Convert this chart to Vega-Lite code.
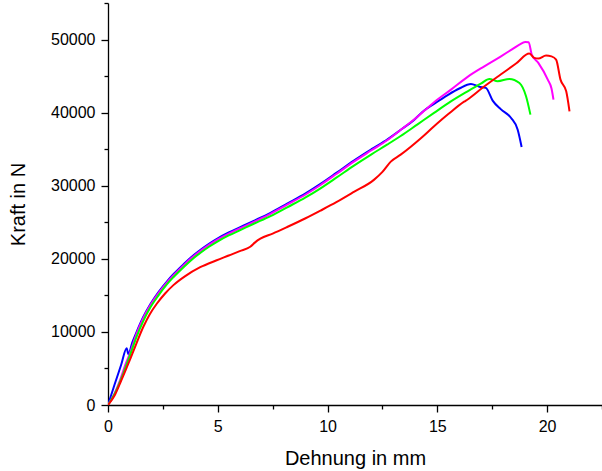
{
  "$schema": "https://vega.github.io/schema/vega-lite/v6.json",
  "width": 494,
  "height": 402,
  "autosize": "none",
  "padding": {"left": 108, "top": 3, "right": 0, "bottom": 66},
  "background": "white",
  "config": {
    "view": {"stroke": null},
    "font": "Liberation Sans",
    "axis": {
      "domainColor": "black",
      "domainWidth": 1.3,
      "tickColor": "black",
      "tickWidth": 1.3,
      "grid": false,
      "labelFont": "Liberation Sans",
      "labelFontSize": 16,
      "labelColor": "black",
      "titleFont": "Liberation Sans",
      "titleFontSize": 20,
      "titleFontWeight": "normal",
      "titleColor": "black",
      "labelPadding": 6
    }
  },
  "data": {
    "values": [
      {"s": "A", "x": 0, "y": 0},
      {"s": "A", "x": 0.3, "y": 2800},
      {"s": "A", "x": 0.6, "y": 5500},
      {"s": "A", "x": 0.85, "y": 7770},
      {"s": "A", "x": 0.93, "y": 6950},
      {"s": "A", "x": 1.1, "y": 8500},
      {"s": "A", "x": 1.31, "y": 10040},
      {"s": "A", "x": 1.6, "y": 12000},
      {"s": "A", "x": 1.92, "y": 13750},
      {"s": "A", "x": 2.3, "y": 15450},
      {"s": "A", "x": 2.68, "y": 16890},
      {"s": "A", "x": 3.0, "y": 17950},
      {"s": "A", "x": 3.44, "y": 19250},
      {"s": "A", "x": 3.8, "y": 20250},
      {"s": "A", "x": 4.2, "y": 21200},
      {"s": "A", "x": 4.6, "y": 22050},
      {"s": "A", "x": 5.0, "y": 22800},
      {"s": "A", "x": 5.5, "y": 23600},
      {"s": "A", "x": 6.0, "y": 24300},
      {"s": "A", "x": 6.64, "y": 25200},
      {"s": "A", "x": 7.4, "y": 26300},
      {"s": "A", "x": 8.16, "y": 27550},
      {"s": "A", "x": 9.0, "y": 28950},
      {"s": "A", "x": 9.68, "y": 30250},
      {"s": "A", "x": 10.4, "y": 31750},
      {"s": "A", "x": 11.2, "y": 33450},
      {"s": "A", "x": 12.0, "y": 35000},
      {"s": "A", "x": 12.73, "y": 36350},
      {"s": "A", "x": 13.4, "y": 37800},
      {"s": "A", "x": 13.94, "y": 39000},
      {"s": "A", "x": 14.32, "y": 40100},
      {"s": "A", "x": 14.9, "y": 41300},
      {"s": "A", "x": 15.47, "y": 42400},
      {"s": "A", "x": 16.0, "y": 43300},
      {"s": "A", "x": 16.53, "y": 43930},
      {"s": "A", "x": 16.91, "y": 43550},
      {"s": "A", "x": 17.21, "y": 43380},
      {"s": "A", "x": 17.52, "y": 41650},
      {"s": "A", "x": 17.9, "y": 40450},
      {"s": "A", "x": 18.36, "y": 39270},
      {"s": "A", "x": 18.66, "y": 37670},
      {"s": "A", "x": 18.84, "y": 35300},

      {"s": "B", "x": 0, "y": 0},
      {"s": "B", "x": 0.3, "y": 1600},
      {"s": "B", "x": 0.55, "y": 3420},
      {"s": "B", "x": 0.8, "y": 5600},
      {"s": "B", "x": 1.0, "y": 7080},
      {"s": "B", "x": 1.31, "y": 9820},
      {"s": "B", "x": 1.6, "y": 11850},
      {"s": "B", "x": 1.92, "y": 13600},
      {"s": "B", "x": 2.3, "y": 15300},
      {"s": "B", "x": 2.68, "y": 16750},
      {"s": "B", "x": 3.0, "y": 17800},
      {"s": "B", "x": 3.44, "y": 19100},
      {"s": "B", "x": 3.8, "y": 20100},
      {"s": "B", "x": 4.2, "y": 21050},
      {"s": "B", "x": 4.6, "y": 21900},
      {"s": "B", "x": 5.0, "y": 22650},
      {"s": "B", "x": 5.5, "y": 23450},
      {"s": "B", "x": 6.0, "y": 24150},
      {"s": "B", "x": 6.64, "y": 25050},
      {"s": "B", "x": 7.4, "y": 26150},
      {"s": "B", "x": 8.16, "y": 27400},
      {"s": "B", "x": 9.0, "y": 28800},
      {"s": "B", "x": 9.68, "y": 30100},
      {"s": "B", "x": 10.4, "y": 31600},
      {"s": "B", "x": 11.2, "y": 33300},
      {"s": "B", "x": 12.0, "y": 34850},
      {"s": "B", "x": 12.73, "y": 36250},
      {"s": "B", "x": 13.4, "y": 37800},
      {"s": "B", "x": 13.94, "y": 39050},
      {"s": "B", "x": 14.4, "y": 40250},
      {"s": "B", "x": 14.84, "y": 41400},
      {"s": "B", "x": 15.62, "y": 43150},
      {"s": "B", "x": 16.38, "y": 44900},
      {"s": "B", "x": 17.14, "y": 46340},
      {"s": "B", "x": 17.9, "y": 47710},
      {"s": "B", "x": 18.4, "y": 48650},
      {"s": "B", "x": 18.74, "y": 49320},
      {"s": "B", "x": 19.0, "y": 49650},
      {"s": "B", "x": 19.16, "y": 49630},
      {"s": "B", "x": 19.3, "y": 47950},
      {"s": "B", "x": 19.6, "y": 46800},
      {"s": "B", "x": 20.03, "y": 44520},
      {"s": "B", "x": 20.2, "y": 43300},
      {"s": "B", "x": 20.29, "y": 41780},

      {"s": "C", "x": 0, "y": 0},
      {"s": "C", "x": 0.3, "y": 1500},
      {"s": "C", "x": 0.7, "y": 4340},
      {"s": "C", "x": 1.0, "y": 6800},
      {"s": "C", "x": 1.31, "y": 9400},
      {"s": "C", "x": 1.6, "y": 11450},
      {"s": "C", "x": 1.92, "y": 13300},
      {"s": "C", "x": 2.3, "y": 15000},
      {"s": "C", "x": 2.68, "y": 16500},
      {"s": "C", "x": 3.0, "y": 17550},
      {"s": "C", "x": 3.44, "y": 18850},
      {"s": "C", "x": 3.8, "y": 19850},
      {"s": "C", "x": 4.2, "y": 20800},
      {"s": "C", "x": 4.6, "y": 21650},
      {"s": "C", "x": 5.0, "y": 22400},
      {"s": "C", "x": 5.5, "y": 23200},
      {"s": "C", "x": 6.0, "y": 23900},
      {"s": "C", "x": 6.64, "y": 24800},
      {"s": "C", "x": 7.4, "y": 25850},
      {"s": "C", "x": 8.16, "y": 27050},
      {"s": "C", "x": 9.0, "y": 28400},
      {"s": "C", "x": 9.68, "y": 29650},
      {"s": "C", "x": 10.4, "y": 31100},
      {"s": "C", "x": 11.2, "y": 32750},
      {"s": "C", "x": 12.0, "y": 34300},
      {"s": "C", "x": 12.73, "y": 35650},
      {"s": "C", "x": 13.33, "y": 36800},
      {"s": "C", "x": 14.1, "y": 38400},
      {"s": "C", "x": 14.85, "y": 39960},
      {"s": "C", "x": 15.6, "y": 41500},
      {"s": "C", "x": 16.38, "y": 42920},
      {"s": "C", "x": 17.0, "y": 44000},
      {"s": "C", "x": 17.37, "y": 44610},
      {"s": "C", "x": 17.75, "y": 44300},
      {"s": "C", "x": 18.28, "y": 44610},
      {"s": "C", "x": 18.74, "y": 44060},
      {"s": "C", "x": 19.04, "y": 42240},
      {"s": "C", "x": 19.24, "y": 39730},

      {"s": "D", "x": 0, "y": 0},
      {"s": "D", "x": 0.3, "y": 1300},
      {"s": "D", "x": 0.55, "y": 2970},
      {"s": "D", "x": 0.85, "y": 5100},
      {"s": "D", "x": 1.16, "y": 7400},
      {"s": "D", "x": 1.61, "y": 10700},
      {"s": "D", "x": 1.91, "y": 12450},
      {"s": "D", "x": 2.22, "y": 13850},
      {"s": "D", "x": 2.6, "y": 15250},
      {"s": "D", "x": 2.98, "y": 16400},
      {"s": "D", "x": 3.5, "y": 17600},
      {"s": "D", "x": 4.2, "y": 18850},
      {"s": "D", "x": 4.95, "y": 19800},
      {"s": "D", "x": 5.5, "y": 20450},
      {"s": "D", "x": 6.0, "y": 21050},
      {"s": "D", "x": 6.48, "y": 21650},
      {"s": "D", "x": 6.7, "y": 22250},
      {"s": "D", "x": 6.94, "y": 22750},
      {"s": "D", "x": 7.5, "y": 23450},
      {"s": "D", "x": 8.16, "y": 24350},
      {"s": "D", "x": 9.0, "y": 25550},
      {"s": "D", "x": 9.68, "y": 26600},
      {"s": "D", "x": 10.4, "y": 27750},
      {"s": "D", "x": 11.2, "y": 29150},
      {"s": "D", "x": 12.11, "y": 30800},
      {"s": "D", "x": 12.5, "y": 31900},
      {"s": "D", "x": 12.88, "y": 33300},
      {"s": "D", "x": 13.33, "y": 34250},
      {"s": "D", "x": 14.25, "y": 36500},
      {"s": "D", "x": 14.84, "y": 38100},
      {"s": "D", "x": 15.5, "y": 39800},
      {"s": "D", "x": 16.22, "y": 41500},
      {"s": "D", "x": 16.38, "y": 41800},
      {"s": "D", "x": 17.1, "y": 43500},
      {"s": "D", "x": 17.9, "y": 45250},
      {"s": "D", "x": 18.6, "y": 46750},
      {"s": "D", "x": 19.19, "y": 48080},
      {"s": "D", "x": 19.42, "y": 47490},
      {"s": "D", "x": 19.6, "y": 47400},
      {"s": "D", "x": 19.95, "y": 47810},
      {"s": "D", "x": 20.2, "y": 47700},
      {"s": "D", "x": 20.41, "y": 47260},
      {"s": "D", "x": 20.61, "y": 44520},
      {"s": "D", "x": 20.87, "y": 42920},
      {"s": "D", "x": 21.02, "y": 40180}
    ]
  },
  "mark": {"type": "line", "strokeWidth": 2, "clip": true, "interpolate": "monotone"},
  "encoding": {
    "x": {
      "field": "x",
      "type": "quantitative",
      "scale": {"domain": [0, 22.5], "nice": false, "zero": false},
      "axis": {
        "title": "Dehnung in mm",
        "values": [0, 2.5, 5, 7.5, 10, 12.5, 15, 17.5, 20, 22.5],
        "labelExpr": "datum.value % 5 === 0 ? datum.label : ''",
        "tickSize": {"condition": {"test": "datum.value % 5 !== 0", "value": 4}, "value": 7},
        "labelFlush": false,
        "titlePadding": 14
      }
    },
    "y": {
      "field": "y",
      "type": "quantitative",
      "scale": {"domain": [0, 55000], "nice": false},
      "axis": {
        "title": "Kraft in N",
        "values": [0, 5000, 10000, 15000, 20000, 25000, 30000, 35000, 40000, 45000, 50000, 55000],
        "format": "d",
        "labelExpr": "datum.value % 10000 === 0 ? datum.label : ''",
        "tickSize": {"condition": {"test": "datum.value % 10000 !== 0", "value": 4}, "value": 7},
        "labelFlush": false,
        "titlePadding": 22
      }
    },
    "color": {
      "field": "s",
      "type": "nominal",
      "scale": {"domain": ["A", "B", "C", "D"], "range": ["#0000FF", "#FF00FF", "#00FF00", "#FF0000"]},
      "legend": null
    },
    "order": {"field": "x", "type": "quantitative"}
  }
}
